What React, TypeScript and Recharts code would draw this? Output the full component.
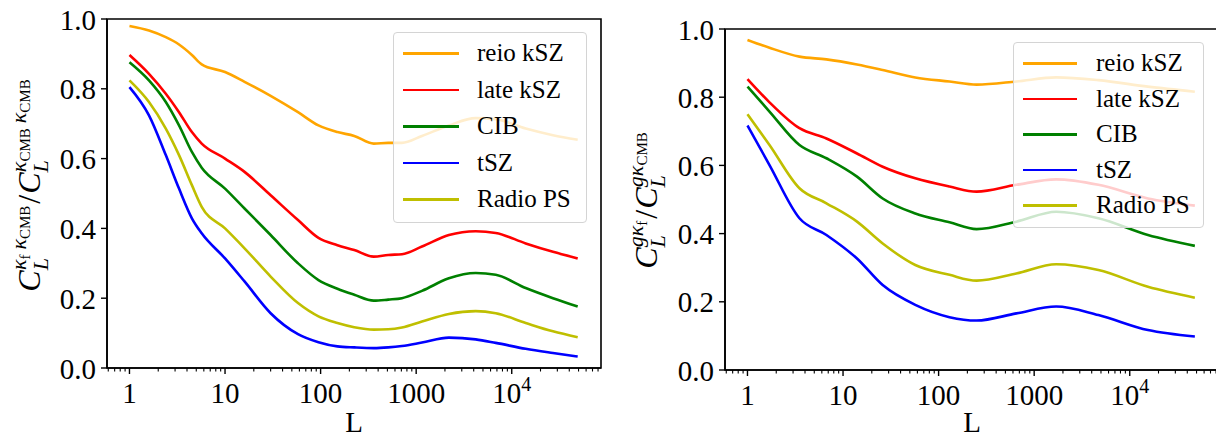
import React from 'react'
import { LineChart, Line, XAxis, YAxis, Legend, ReferenceArea } from 'recharts'

// multipole L sampled along each panel
const L_LEFT = [1, 1.6, 2.4, 3.3, 4.5, 5.7, 10, 16, 30, 58, 95, 150, 225, 360, 510, 710, 1150, 2200, 4200, 6800, 14000, 27000, 49000]
const L_RIGHT = [1, 1.7, 3.5, 6.7, 14, 26, 57, 130, 250, 650, 1700, 4700, 15500, 48000]

// left panel: C_L^{kf kCMB} / C_L^{kCMB kCMB}
const LEFT_REIO = [0.98, 0.967, 0.948, 0.927, 0.897, 0.87, 0.848, 0.82, 0.78, 0.733, 0.695, 0.676, 0.665, 0.643, 0.645, 0.645, 0.665, 0.695, 0.716, 0.713, 0.686, 0.667, 0.654]
const LEFT_LATE = [0.897, 0.843, 0.786, 0.733, 0.676, 0.643, 0.6, 0.562, 0.495, 0.424, 0.373, 0.352, 0.338, 0.319, 0.324, 0.326, 0.348, 0.381, 0.392, 0.387, 0.357, 0.333, 0.314]
const LEFT_CIB = [0.876, 0.824, 0.762, 0.695, 0.619, 0.574, 0.514, 0.457, 0.381, 0.3, 0.252, 0.227, 0.21, 0.193, 0.196, 0.2, 0.221, 0.257, 0.272, 0.267, 0.229, 0.2, 0.176]
const LEFT_TSZ = [0.805, 0.724, 0.61, 0.514, 0.429, 0.386, 0.314, 0.248, 0.157, 0.097, 0.074, 0.062, 0.059, 0.057, 0.059, 0.063, 0.073, 0.087, 0.082, 0.072, 0.055, 0.043, 0.033]
const LEFT_RADIO = [0.824, 0.762, 0.686, 0.61, 0.524, 0.462, 0.4, 0.343, 0.262, 0.186, 0.148, 0.129, 0.117, 0.11, 0.111, 0.116, 0.133, 0.155, 0.163, 0.157, 0.129, 0.105, 0.088]

// right panel: C_L^{g kf} / C_L^{g kCMB}
const RIGHT_REIO = [0.968, 0.945, 0.919, 0.911, 0.896, 0.88, 0.858, 0.846, 0.837, 0.846, 0.858, 0.85, 0.831, 0.816]
const RIGHT_LATE = [0.853, 0.785, 0.709, 0.679, 0.635, 0.596, 0.562, 0.538, 0.523, 0.543, 0.559, 0.543, 0.503, 0.482]
const RIGHT_CIB = [0.831, 0.758, 0.66, 0.621, 0.567, 0.503, 0.459, 0.433, 0.413, 0.435, 0.464, 0.445, 0.396, 0.364]
const RIGHT_TSZ = [0.717, 0.601, 0.445, 0.396, 0.327, 0.249, 0.191, 0.155, 0.145, 0.166, 0.186, 0.161, 0.117, 0.098]
const RIGHT_RADIO = [0.75, 0.66, 0.533, 0.489, 0.435, 0.371, 0.308, 0.279, 0.262, 0.283, 0.31, 0.293, 0.244, 0.212]

const SERIES = [
  { key: 'reio', name: 'reio kSZ', color: '#ffa500' },
  { key: 'late', name: 'late kSZ', color: '#ff0000' },
  { key: 'cib', name: 'CIB', color: '#008000' },
  { key: 'tsz', name: 'tSZ', color: '#0000ff' },
  { key: 'radio', name: 'Radio PS', color: '#bfbf00' },
]

const MAJOR_TICKS = [1, 10, 100, 1000, 10000]
const X_TICK_LABELS = ['1', '10', '100', '1000', '10^4']
const Y_TICKS = [0, 0.2, 0.4, 0.6, 0.8, 1.0]
const X_DOMAIN = [0.582, 85900]

const FONT = '"Liberation Serif", "DejaVu Serif", serif'

const minorTicks: number[] = []
for (let k = -1; k <= 4; k++) {
  for (let m = 2; m <= 9; m++) {
    const v = m * Math.pow(10, k)
    if (v > X_DOMAIN[0] && v < X_DOMAIN[1]) minorTicks.push(v)
  }
}
const X_TICKS = [...MAJOR_TICKS, ...minorTicks].sort((a, b) => a - b)

const buildRows = (ls: number[], reio: number[], late: number[], cib: number[], tsz: number[], radio: number[]) =>
  ls.map((L, i) => ({ L, reio: reio[i], late: late[i], cib: cib[i], tsz: tsz[i], radio: radio[i] }))

const leftData = buildRows(L_LEFT, LEFT_REIO, LEFT_LATE, LEFT_CIB, LEFT_TSZ, LEFT_RADIO)
const rightData = buildRows(L_RIGHT, RIGHT_REIO, RIGHT_LATE, RIGHT_CIB, RIGHT_TSZ, RIGHT_RADIO)

const XTick = (props: any) => {
  const { x, y, payload } = props
  const i = MAJOR_TICKS.indexOf(payload.value)
  const major = i >= 0
  const label = major ? X_TICK_LABELS[i] : null
  return (
    <g>
      <line x1={x} x2={x} y1={y} y2={y + (major ? 6 : 3.5)} stroke="#000" strokeWidth={major ? 1.4 : 1.1} />
      {label && (label === '10^4' ? (
        <text x={x} y={y + 35} textAnchor="middle" fontFamily={FONT} fontSize={29} fill="#000">
          10<tspan fontSize={20} dy={-12}>4</tspan>
        </text>
      ) : (
        <text x={x} y={y + 35} textAnchor="middle" fontFamily={FONT} fontSize={29} fill="#000">
          {label}
        </text>
      ))}
    </g>
  )
}

const YTick = (props: any) => {
  const { x, y, payload } = props
  return (
    <g>
      <line x1={x - 6} x2={x} y1={y} y2={y} stroke="#000" strokeWidth={1.4} />
      <text x={x - 11} y={y + 10.5} textAnchor="end" fontFamily={FONT} fontSize={29} fill="#000">
        {payload.value.toFixed(1)}
      </text>
    </g>
  )
}

const XLabel = (props: any) => {
  const vb = props.viewBox
  return (
    <text x={vb.x + vb.width / 2} y={vb.y + vb.height - 6} textAnchor="middle" fontFamily={FONT} fontSize={29} fill="#000">
      L
    </text>
  )
}

const LeftYLabel = (props: any) => {
  const vb = props.viewBox
  return (
    <text
      transform={`translate(${vb.x + 40},${vb.y + vb.height / 2 - 8}) rotate(-90)`}
      textAnchor="middle"
      fontFamily={FONT}
      fontSize={32}
      fill="#000"
    >
      <tspan fontStyle="italic">C</tspan>
      <tspan fontSize={22} fontStyle="italic" dy={8}>L</tspan>
      <tspan fontSize={22} fontStyle="italic" dx={-12} dy={-22}>κ</tspan>
      <tspan fontSize={15} dy={4}>f</tspan>
      <tspan fontSize={22} fontStyle="italic" dx={5} dy={-4}>κ</tspan>
      <tspan fontSize={15} dy={4}>CMB</tspan>
      <tspan dy={10} dx={2}>/</tspan>
      <tspan fontStyle="italic" dx={1}>C</tspan>
      <tspan fontSize={22} fontStyle="italic" dy={8}>L</tspan>
      <tspan fontSize={22} fontStyle="italic" dx={-12} dy={-22}>κ</tspan>
      <tspan fontSize={15} dy={4}>CMB</tspan>
      <tspan fontSize={22} fontStyle="italic" dx={5} dy={-4}>κ</tspan>
      <tspan fontSize={15} dy={4}>CMB</tspan>
    </text>
  )
}

const RightYLabel = (props: any) => {
  const vb = props.viewBox
  return (
    <text
      transform={`translate(${vb.x + 47},${vb.y + vb.height / 2 + 1}) rotate(-90)`}
      textAnchor="middle"
      fontFamily={FONT}
      fontSize={32}
      fill="#000"
    >
      <tspan fontStyle="italic">C</tspan>
      <tspan fontSize={22} fontStyle="italic" dy={8}>L</tspan>
      <tspan fontSize={22} fontStyle="italic" dx={-12} dy={-22}>gκ</tspan>
      <tspan fontSize={15} dy={4}>f</tspan>
      <tspan dy={10} dx={2}>/</tspan>
      <tspan fontStyle="italic" dx={1}>C</tspan>
      <tspan fontSize={22} fontStyle="italic" dy={8}>L</tspan>
      <tspan fontSize={22} fontStyle="italic" dx={-12} dy={-22}>gκ</tspan>
      <tspan fontSize={15} dy={4}>CMB</tspan>
    </text>
  )
}

const seriesOrder = (name: string) => SERIES.findIndex((s) => s.name === name)

const makeLegend = (lineX: number, lineW: number, textX: number, rowY: number, rowH: number) => (props: any) => {
  const items = [...(props.payload || [])].sort((a: any, b: any) => seriesOrder(a.value) - seriesOrder(b.value))
  return (
    <div
      style={{
        position: 'relative',
        width: '100%',
        height: '100%',
        boxSizing: 'border-box',
        border: '1px solid #d4d4d4',
        borderRadius: 4,
        background: 'rgba(255,255,255,0.8)',
        fontFamily: FONT,
        fontSize: 25,
        color: '#000',
      }}
    >
      {items.map((it: any, i: number) => (
        <div key={it.value} style={{ position: 'absolute', left: 0, top: rowY + i * rowH - 18, height: 36, width: '100%' }}>
          <div style={{ position: 'absolute', left: lineX, top: 17, width: lineW, height: 2.6, background: it.color }} />
          <div style={{ position: 'absolute', left: textX, top: 2, lineHeight: '32px', whiteSpace: 'nowrap' }}>{it.value}</div>
        </div>
      ))}
    </div>
  )
}

const leftLegend = makeLegend(9, 56, 83, 20, 36.5)
const rightLegend = makeLegend(9, 54, 82, 20, 35.6)

interface PanelProps {
  data: any[]
  width: number
  top: number
  right: number
  yAxisWidth: number
  xAxisHeight: number
  yLabel: (p: any) => React.ReactElement
  legendBox: { left: number; top: number; width: number; height: number }
  legendContent: (p: any) => React.ReactElement
}

function Panel({ data, width, top, right, yAxisWidth, xAxisHeight, yLabel, legendBox, legendContent }: PanelProps) {
  return (
    <LineChart width={width} height={438} data={data} margin={{ top, right, bottom: 0, left: 0 }}>
      {/* axes frame (top and right spines) */}
      <ReferenceArea
        x1={X_DOMAIN[0]}
        x2={X_DOMAIN[1]}
        y1={0}
        y2={1}
        fill="none"
        stroke="#000"
        strokeWidth={1.6}
        ifOverflow="visible"
      />
      <XAxis
        dataKey="L"
        type="number"
        scale="log"
        domain={X_DOMAIN}
        allowDataOverflow
        ticks={X_TICKS}
        interval={0}
        tick={(p: any) => <XTick {...p} />}
        tickLine={false}
        tickSize={0}
        tickMargin={0}
        height={xAxisHeight}
        axisLine={{ stroke: '#000', strokeWidth: 1.6 }}
        label={{ content: (p: any) => <XLabel {...p} /> }}
      />
      <YAxis
        type="number"
        domain={[0, 1]}
        allowDataOverflow
        ticks={Y_TICKS}
        interval={0}
        tick={(p: any) => <YTick {...p} />}
        tickLine={false}
        tickSize={0}
        tickMargin={0}
        width={yAxisWidth}
        axisLine={{ stroke: '#000', strokeWidth: 1.6 }}
        label={{ content: yLabel }}
      />
      {SERIES.map((s) => (
        <Line
          key={s.key}
          dataKey={s.key}
          name={s.name}
          stroke={s.color}
          strokeWidth={2.6}
          type="monotone"
          dot={false}
          activeDot={false}
          isAnimationActive={false}
        />
      ))}
      <Legend
        layout="vertical"
        align="center"
        verticalAlign="middle"
        wrapperStyle={{ ...legendBox, position: 'absolute' }}
        content={legendContent}
      />
    </LineChart>
  )
}

export default function App() {
  return (
    <div style={{ position: 'absolute', left: 0, top: 0, width: 1216, height: 438, overflow: 'hidden', background: '#fff' }}>
      <div style={{ position: 'absolute', left: 0, top: 0 }}>
        <Panel
          data={leftData}
          width={604}
          top={19}
          right={3}
          yAxisWidth={107}
          xAxisHeight={70}
          yLabel={(p: any) => <LeftYLabel {...p} />}
          legendBox={{ left: 393, top: 32, width: 194, height: 191 }}
          legendContent={leftLegend}
        />
      </div>
      <div style={{ position: 'absolute', left: 610, top: 0 }}>
        <Panel
          data={rightData}
          width={612}
          top={29}
          right={3}
          yAxisWidth={115}
          xAxisHeight={68}
          yLabel={(p: any) => <RightYLabel {...p} />}
          legendBox={{ left: 403, top: 42, width: 191, height: 186 }}
          legendContent={rightLegend}
        />
      </div>
    </div>
  )
}
